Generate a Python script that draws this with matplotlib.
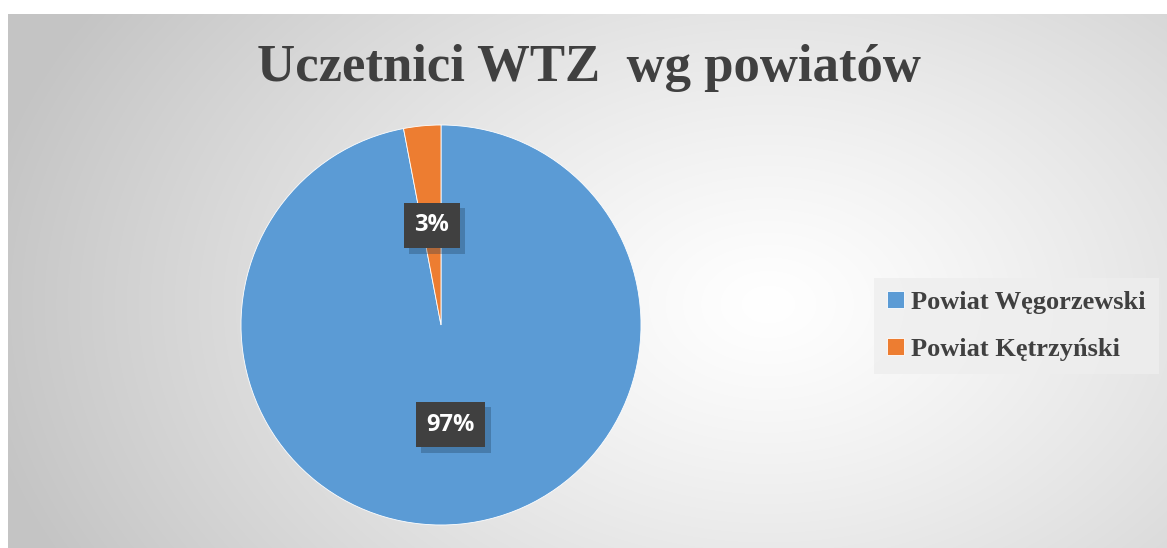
import numpy as np
import matplotlib
matplotlib.use("Agg")
import matplotlib.pyplot as plt
import matplotlib.patheffects as pe

# data
title = "Uczetnici WTZ  wg powiatów"
labels = ["Powiat Węgorzewski", "Powiat Kętrzyński"]
values = [97, 3]
colors = ["#5B9BD5", "#ED7D31"]

W, H = 1167, 548
fig = plt.figure(figsize=(W / 100, H / 100), dpi=100)
fig.patch.set_facecolor("white")

# radial gradient background of the chart area
bg = fig.add_axes([8 / W, 0, 1 - 8 / W, 534 / H])
bg.set_axis_off()
yy, xx = np.mgrid[0:534, 0:1159]
cx, cy = 760, 290
d = np.sqrt(((xx - cx) / 800.0) ** 2 + ((yy - cy) / 560.0) ** 2)
g = 1.0 - 0.23 * np.clip(d, 0, 1) ** 1.2
bg.imshow(np.dstack([g, g, g]), aspect="auto", extent=[0, 1, 0, 1])
bg.set_xlim(0, 1)
bg.set_ylim(0, 1)

# pie
pcx, pcy, r = 441, 325, 200
ax = fig.add_axes([(pcx - r) / W, 1 - (pcy + r) / H, 2 * r / W, 2 * r / H])
wedges, texts, autotexts = ax.pie(
    values, colors=colors, startangle=90, counterclock=False,
    autopct="%1.0f%%", pctdistance=0.5,
    wedgeprops=dict(edgecolor="white", linewidth=0.6),
)
ax.set_xlim(-1, 1)
ax.set_ylim(-1, 1)
for t in autotexts:
    t.set_color("white")
    t.set_fontsize(17)
    t.set_fontfamily("Open Sans")
    t.set_fontweight("bold")
    t.set_bbox(dict(boxstyle="square,pad=0.45", facecolor="#404040",
                    edgecolor="#404040", linewidth=0))
    t.get_bbox_patch().set_path_effects([
        pe.SimplePatchShadow(offset=(4, -4), shadow_rgbFace="#1a3550", alpha=0.3),
        pe.Normal(),
    ])

# title
fig.text(0.505, 1 - 68 / H, title, ha="center", va="center",
         fontsize=38, fontweight="bold", family="Liberation Serif", color="#404040")

# legend
leg = fig.legend(wedges, labels, loc="center left",
                 bbox_to_anchor=(874 / W, 1 - 326 / H),
                 prop=dict(family="Liberation Serif", weight="bold", size=19),
                 frameon=True, fancybox=False, handlelength=0.62, handleheight=0.62,
                 handletextpad=0.3, labelspacing=0.9, borderpad=0.5,
                 borderaxespad=0)
leg.get_frame().set_facecolor("#eeeeee")
leg.get_frame().set_alpha(0.8)
leg.get_frame().set_linewidth(0)
for t in leg.get_texts():
    t.set_color("#404040")

fig.savefig("out.png", dpi=100)
